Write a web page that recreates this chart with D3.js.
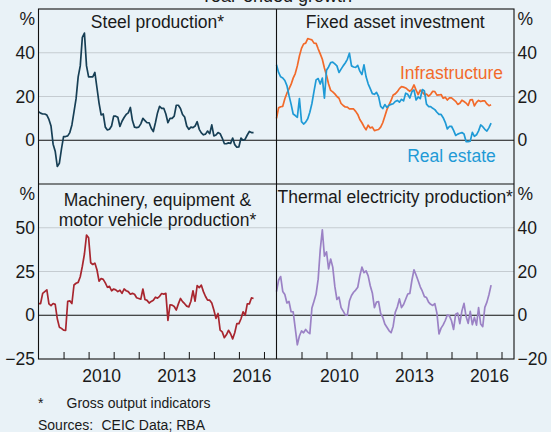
<!DOCTYPE html>
<html>
<head>
<meta charset="utf-8">
<script src="https://cdn.jsdelivr.net/npm/d3@7/dist/d3.min.js"></script>
<style>
  body { margin: 0; background: #e9f2f7; }
  svg { display: block; font-family: "Liberation Sans", Arial, sans-serif; }
</style>
</head>
<body>
<div id="chart-area"></div>
<script>
// monthly year-ended growth, Jan 2008 onwards (%)
const steel = [
  13, 12.4, 12, 12, 11.5, 9.5, 6.5, -1.8, -5, -12,
  -10.5, -4, 1.7, 1.7, 2, 3.5, 7, 13, 19, 29,
  34, 47, 49, 34, 29, 29, 29, 31, 24, 17,
  11.6, 12, 6, 4.7, 5, 6.5, 11, 11, 10.5, 6.3,
  8.7, 10.4, 11.8, 12.5, 15, 9, 6, 5.8, 6, 7.5,
  10, 9, 8, 8, 5.5, 4, 8, 12.5, 15.5, 14.6,
  14.6, 12, 8, 10, 10, 11, 16, 16, 14.5, 11.8,
  10.6, 6.5, 5, 6, 5.8, 6.5, 8.5, 5, 3.4, 2.5,
  2.8, 4.2, 3, 7, 2, 2.4, 3.5, 3, 1, -1.5,
  -1.6, -1.2, -1.4, 1, -2, -3.2, -3, 1, 0, 0.5,
  2.4, 4, 3.5, 3.5
];
const infrastructure = [
  10, 14.8, 15.3, 15.5, 19, 21.5, 23.5, 25.5, 28.4, 30.5,
  34, 38.5, 42, 44, 44.4, 46.5, 46.2, 45.9, 44.4, 44.3,
  41.8, 39.5, 37, 33, 29.7, 25.7, 22.8, 22.1, 21.2, 20,
  19.2, 16.8, 15.9, 15.2, 15.1, 14.3, 14.4, 14.3, 13.2, 11.8,
  9.5, 8, 6.2, 4.8, 6.9, 5.6, 6, 4.4, 4.7, 4.9,
  6, 8, 11, 14, 16.2, 18.2, 20.7, 21.2, 22.2, 23.6,
  24.5, 24.3, 23.9, 23.1, 22.4, 23.3, 25.3, 22.9, 20.9, 22.9,
  22, 20.9, 21.1, 20.2, 21, 22.4, 22.2, 20.6, 20.7, 20.9,
  19.2, 19.7, 18.4, 19.4, 19.4, 18.6, 17.8, 16.4, 16.9, 18.3,
  17.7, 17, 15.9, 18.5, 18.6, 15.7, 17.3, 18.2, 17.7, 18,
  18, 16.6, 15.8, 16.2
];
const realEstate = [
  34.5, 31, 29, 28.5, 27.3, 25, 20.5, 16.5, 12, 11.3,
  10.5, 19, 8.5, 7.4, 8.3, 9.8, 12.8, 16.8, 22.3, 27.6,
  28.2, 25.7, 28.4, 19.2, 32, 33.5, 35.5, 35.7, 34.9, 34,
  31, 32.5, 34, 35.3, 37, 39.8, 34, 33.5, 33.3, 34.2,
  31.6, 30, 34.5, 29, 25.8, 23.6, 21.3, 21, 21.9, 20,
  15.5, 14.5, 16.3, 15, 16, 16.4, 16.7, 17.7, 18.2, 17.4,
  18.7, 18, 21.5, 21, 19.3, 22.2, 23, 18.4, 19.8, 19,
  23.2, 22.5, 16.5, 15.4, 15.4, 14.6, 14, 12.8, 11.8, 11.8,
  10.3, 8.2, 5.2, 6.3, 6.4, 4.5, 2.2, 2.8, 3.2, 3.5,
  2.9, -0.6, -0.6, -0.4, 3.6, 1.8, 2.5, 4.3, 7, 6.2,
  5, 4.2, 5.8, 7.8
];
const machinery = [
  6.7, 6.7, 12.5, 13.5, 14.5, 6.5, 5.5, 6.7, 6.2, -2,
  -6.8, -7.5, -8.5, -8.7, 8, 8.2, 6.7, 17.3, 18.3, 18.8,
  22, 28, 35, 45.8, 44.3, 30, 29, 29.8, 26, 19.5,
  21, 20.5, 18.5, 16, 16.5, 14, 15, 14.5, 13.5, 14.3,
  12.5, 15, 14, 13.5, 12, 12.5, 12, 10, 9.6, 9.2,
  15, 9, 8.5, 7, 7.9, 8.6, 10.3, 9.8, 10.8, 12.4,
  12.1, 12.5, -2.9, 6, 5.8, 5, 3, 6.5, 9.6, 7.8,
  6.6, 5.2, 4.8, 8, 14, 8, 17, 15.8, 17.2, 13.5,
  10.7, 8.6, 8.6, 7, 3, -1.8, 1, -8.5, -9.5, -12.8,
  -11.2, -8.6, -10.6, -13.5, -10, -4.8, -4.8, -2, 2, 0,
  6.5, 6.5, 9.9, 9.6
];
const thermal = [
  10.8, 16, 17.7, 10.9, 9.5, 5.6, 6.3, 1.6, 1.5, -6,
  -13.5, -9.5, -7.2, -8, -6.5, -7.7, -8.4, 3.3, 6.4, 9.7,
  16.5, 30, 39, 27, 29, 21.2, 25.7, 22, 13.2, 7.2,
  8.3, 3.5, 1.9, 0.2, 0, 6.5, 9, 10.5, 11.5, 12.8,
  18, 22, 19.5, 20.3, 18, 13.5, 10.2, 3.5, 6, 6.2,
  0.8, -0.9, -4, -5.5, -7, -8, -5, 1.3, 3.8, 7.5,
  3.5, 4.9, 7.3, 9.7, 10, 16, 20.8, 18.4, 15.8, 13,
  11, 8.5, 8.1, 6, 5, 4.5, 5.3, 1, -8.5, -5.9,
  -4.4, -2.4, 0.1, -0.3, -2.5, -6.5, 0.5, 1, -3.8, 2,
  5.4, -0.6, -3.7, 1.8, -4.3, -1, -4.5, 3.5, -4, -5.2,
  3.6, 6, 9.5, 13.8
];

const startYear = 2008;
const yearTicks = [2009, 2010, 2011, 2012, 2013, 2014, 2015, 2016, 2017];
const yearLabels = [2010, 2013, 2016];

const width = 551;
const height = 432;
const plotLeft = 38.5, plotMid = 276.5, plotRight = 514;
const plotTop = 9, plotMiddle = 184, plotBottom = 359;
const fontSize = 17.5;

const colors = {
  steel: "#173f55",
  infra: "#f26a2a",
  realEstate: "#1f9ad6",
  machinery: "#a8262f",
  thermal: "#9b82c5"
};

const panels = [
  { title: ["Steel production*"], titleY: 22, x: [plotLeft, plotMid], y: [plotMiddle, plotTop],
    domain: [-20, 60], grid: [20, 40], labels: [0, 20, 40], side: "left", xAxis: false,
    series: [{ values: steel, color: colors.steel }] },
  { title: ["Fixed asset investment"], titleY: 22, x: [plotMid, plotRight], y: [plotMiddle, plotTop],
    domain: [-20, 60], grid: [20, 40], labels: [0, 20, 40], side: "right", xAxis: false,
    series: [{ values: infrastructure, color: colors.infra, name: "Infrastructure", at: [2015, 30.7] },
             { values: realEstate, color: colors.realEstate, name: "Real estate", at: [2015, -7] }] },
  { title: ["Machinery, equipment &", "motor vehicle production*"], titleY: 199.5, x: [plotLeft, plotMid], y: [plotBottom, plotMiddle],
    domain: [-25, 75], grid: [25, 50], labels: [-25, 0, 25, 50], side: "left", xAxis: true,
    series: [{ values: machinery, color: colors.machinery }] },
  { title: ["Thermal electricity production*"], titleY: 197, x: [plotMid, plotRight], y: [plotBottom, plotMiddle],
    domain: [-20, 60], grid: [20, 40], labels: [-20, 0, 20, 40], side: "right", xAxis: true,
    series: [{ values: thermal, color: colors.thermal }] }
];

const svg = d3.select("#chart-area")
    .append("svg")
    .attr("width", width)
    .attr("height", height);

svg.append("rect")
    .attr("width", width)
    .attr("height", height)
    .attr("fill", "#e9f2f7");

// chart title, mostly cut off at the top edge (as in the original)
svg.append("text")
    .attr("x", (plotLeft + plotRight) / 2)
    .attr("y", 2)
    .attr("text-anchor", "middle")
    .attr("font-size", 18)
    .attr("fill", "#1a1a1a")
    .text("Year-ended growth");

panels.forEach(p => {
    const x = d3.scaleLinear().domain([startYear, 2017.5]).range(p.x);
    const y = d3.scaleLinear().domain(p.domain).range(p.y);
    const g = svg.append("g");

    // gridlines
    g.selectAll(".grid")
        .data(p.grid)
        .enter().append("line")
        .attr("x1", p.x[0]).attr("x2", p.x[1])
        .attr("y1", d => y(d)).attr("y2", d => y(d))
        .attr("stroke", "#c5ccd1")
        .attr("stroke-width", 1.2);

    g.append("line")
        .attr("x1", p.x[0]).attr("x2", p.x[1])
        .attr("y1", y(0)).attr("y2", y(0))
        .attr("stroke", "#111")
        .attr("stroke-width", 1.1);

    // value labels
    const yAxis = (p.side === "left" ? d3.axisLeft(y) : d3.axisRight(y))
        .tickValues(p.labels)
        .tickSize(0)
        .tickPadding(3.5);
    const ya = g.append("g")
        .attr("transform", `translate(${p.side === "left" ? p.x[0] : p.x[1]},0)`)
        .call(yAxis);
    ya.select(".domain").remove();
    ya.selectAll("text").attr("font-size", fontSize).attr("fill", "#1a1a1a").attr("font-family", null);

    g.append("text")
        .attr("x", p.side === "left" ? p.x[0] - 3.5 : p.x[1] + 3.5)
        .attr("y", p.y[1] + 9.5)
        .attr("dy", "0.35em")
        .attr("text-anchor", p.side === "left" ? "end" : "start")
        .attr("font-size", fontSize)
        .attr("fill", "#1a1a1a")
        .text("%");

    if (p.xAxis) {
        const ticks = g.append("g")
            .attr("transform", `translate(0,${p.y[0]})`)
            .call(d3.axisBottom(x).tickValues(yearTicks).tickSize(-7).tickFormat(""));
        ticks.select(".domain").remove();
        ticks.selectAll("line").attr("stroke", "#111");

        const lab = g.append("g")
            .attr("transform", `translate(0,${p.y[0]})`)
            .call(d3.axisBottom(x).tickValues(yearLabels.map(v => v + 0.5)).tickSize(0).tickPadding(11)
                .tickFormat(d => Math.floor(d)));
        lab.select(".domain").remove();
        lab.selectAll("text").attr("font-size", fontSize).attr("fill", "#1a1a1a").attr("font-family", null);
    }

    const line = d3.line()
        .x((d, i) => x(startYear + i / 12))
        .y(d => y(d));

    p.series.forEach(s => {
        g.append("path")
            .datum(s.values)
            .attr("fill", "none")
            .attr("stroke", s.color)
            .attr("stroke-width", 1.7)
            .attr("stroke-linejoin", "round")
            .attr("d", line);
        if (s.name) {
            g.append("text")
                .attr("x", x(s.at[0]))
                .attr("y", y(s.at[1]))
                .attr("dy", "0.35em")
                .attr("text-anchor", "middle")
                .attr("font-size", fontSize)
                .attr("fill", s.color)
                .text(s.name);
        }
    });

    g.selectAll(".title")
        .data(p.title)
        .enter().append("text")
        .attr("x", (p.x[0] + p.x[1]) / 2)
        .attr("y", (d, i) => p.titleY + i * 20.7)
        .attr("dy", "0.35em")
        .attr("text-anchor", "middle")
        .attr("font-size", fontSize)
        .attr("fill", "#1a1a1a")
        .text(d => d);
});

// panel frame
svg.append("rect")
    .attr("x", plotLeft).attr("y", plotTop)
    .attr("width", plotRight - plotLeft).attr("height", plotBottom - plotTop)
    .attr("fill", "none").attr("stroke", "#111").attr("stroke-width", 1.1);
svg.append("line")
    .attr("x1", plotMid).attr("x2", plotMid).attr("y1", plotTop).attr("y2", plotBottom)
    .attr("stroke", "#111").attr("stroke-width", 1.1);
svg.append("line")
    .attr("x1", plotLeft).attr("x2", plotRight).attr("y1", plotMiddle).attr("y2", plotMiddle)
    .attr("stroke", "#111").attr("stroke-width", 1.1);

// footnotes
const notes = svg.append("g").attr("font-size", 14).attr("fill", "#1a1a1a");
notes.append("text").attr("x", 38).attr("y", 403).attr("dy", "0.35em").text("*");
notes.append("text").attr("x", 66.5).attr("y", 403).attr("dy", "0.35em").text("Gross output indicators");
notes.append("text").attr("x", 38).attr("y", 425.5).attr("dy", "0.35em").text("Sources:");
notes.append("text").attr("x", 101.5).attr("y", 425.5).attr("dy", "0.35em").text("CEIC Data; RBA");
</script>
</body>
</html>
